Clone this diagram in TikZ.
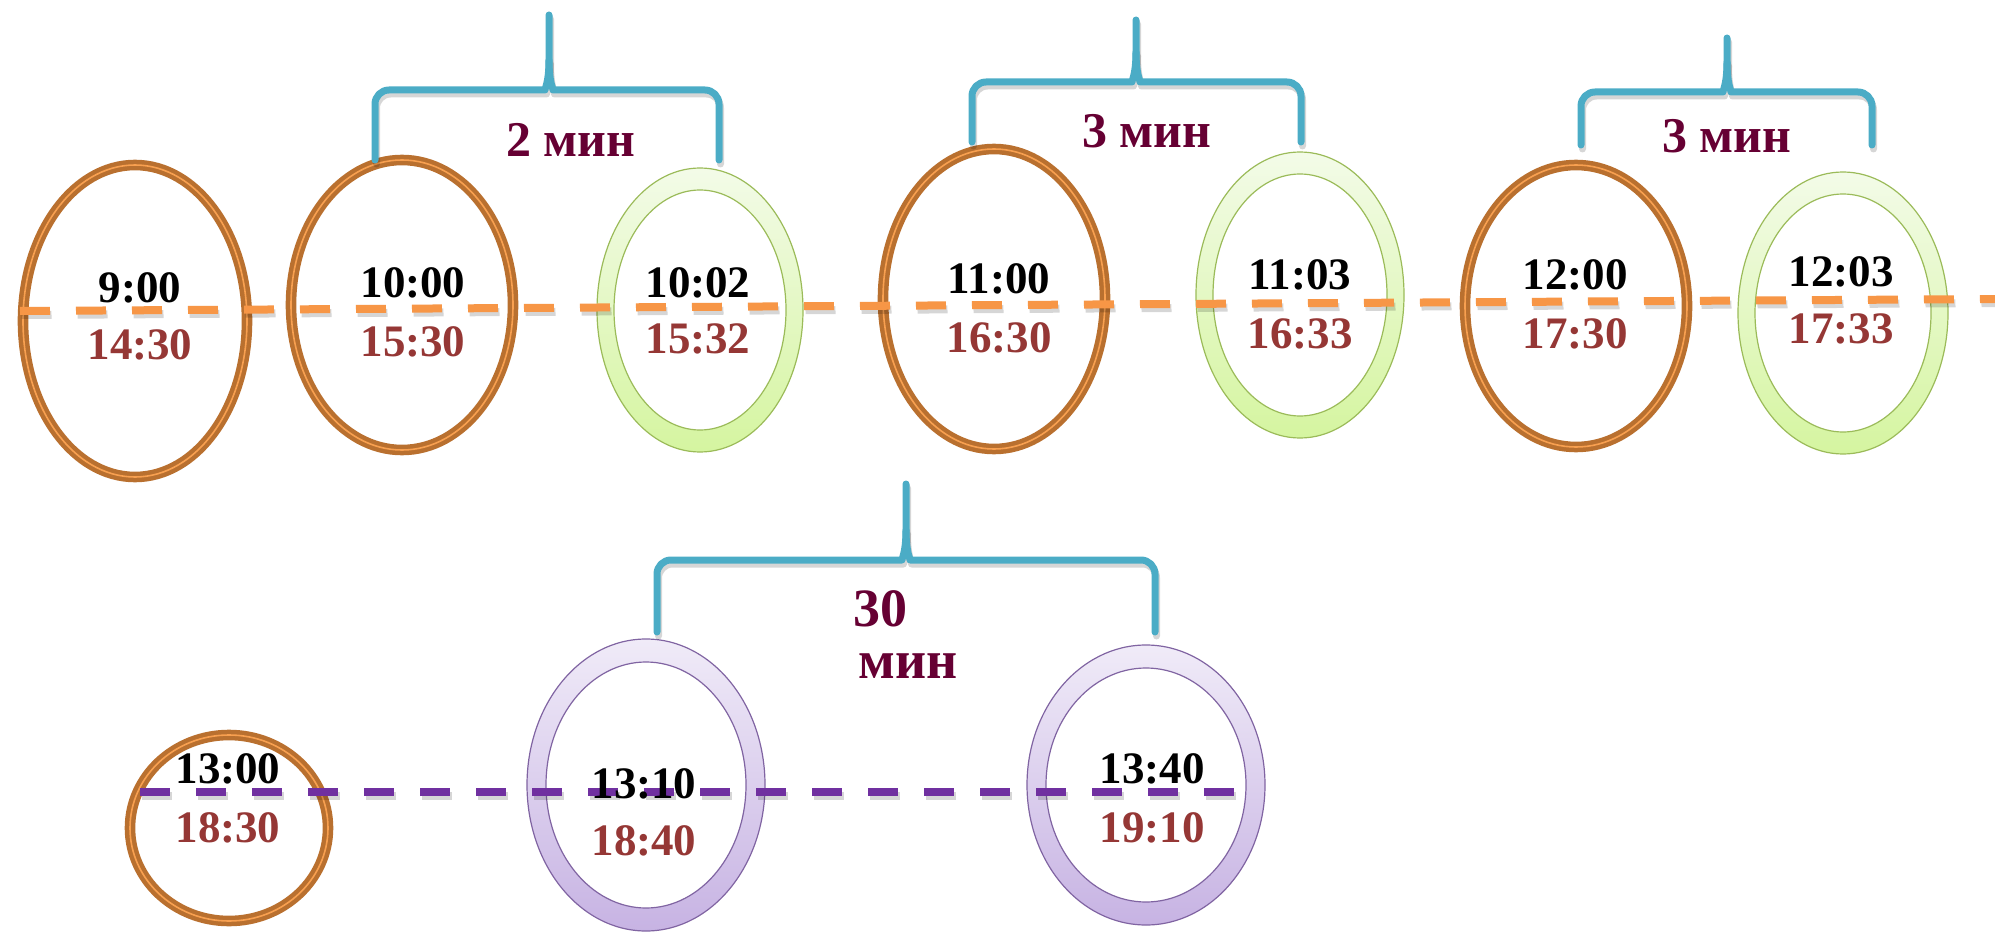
\documentclass[tikz,border=0pt]{standalone}
\usepackage{fontspec}
\setmainfont{Liberation Serif}
\definecolor{brownring}{HTML}{B9702F}
\definecolor{brownstripe}{HTML}{F8A050}
\definecolor{orline}{HTML}{F79646}
\definecolor{purline}{HTML}{7030A0}
\definecolor{gedge}{HTML}{9BBB59}
\definecolor{gtop}{HTML}{F3FBE8}
\definecolor{gbot}{HTML}{D5F5A0}
\definecolor{pedge}{HTML}{8064A2}
\definecolor{ptop}{HTML}{F0EBF8}
\definecolor{pbot}{HTML}{C7B3E3}
\definecolor{bracec}{HTML}{4BACC6}
\definecolor{lblc}{HTML}{660033}
\definecolor{redt}{HTML}{953735}
\tikzset{
  oring/.style={draw=brownring, line width=4.5pt, double=brownstripe, double distance=1.6pt, fill=white},
  gouter/.style={draw=gedge, line width=1.2pt, top color=gtop, bottom color=gbot},
  pouter/.style={draw=pedge, line width=1.2pt, top color=ptop, bottom color=pbot},
  ginner/.style={draw=gedge, line width=1.2pt, fill=white},
  pinner/.style={draw=pedge, line width=1.2pt, fill=white},
  shadowcopy/.style={draw=black, draw opacity=0.16, transform canvas={shift={(1.5pt,-4pt)}}},
  timeline/.style={line width=8pt, dash pattern=on 30pt off 26pt},
  bracestyle/.style={draw=bracec, line width=7pt, line cap=round, line join=round},
  ttop/.style={anchor=base, inner sep=0pt, font=\bfseries\fontsize{45}{50}\selectfont, text=black},
  tbot/.style={anchor=base, inner sep=0pt, font=\bfseries\fontsize{45}{50}\selectfont, text=redt},
  lbl/.style={anchor=base, inner sep=0pt, font=\bfseries\fontsize{50}{55}\selectfont, text=lblc},
  lblbig/.style={anchor=base, inner sep=0pt, font=\bfseries\fontsize{54}{60}\selectfont, text=lblc},
}
\newcommand\ORingAt[4]{\draw[oring] (#1,#2) ellipse [x radius=#3-5, y radius=#4-5];}
\newcommand\GRingAt[4]{\draw[gouter] (#1,#2) ellipse [x radius=#3, y radius=#4];
  \draw[ginner] (#1,#2) ellipse [x radius=#3-17, y radius=#4-22];}
\newcommand\PRingAt[4]{\draw[pouter] (#1,#2) ellipse [x radius=#3, y radius=#4];
  \draw[pinner] (#1,#2) ellipse [x radius=#3-19, y radius=#4-23];}
\newcommand\BraceHalf[7]{% style, xl, xt, xr, ybottom, yhoriz, ytop
  \draw[bracestyle,#1] (#2,#5) [rounded corners=14pt] -- (#2,#6) -- (#3-18,#6) [sharp corners]
     .. controls (#3-5,#6) and (#3,#6-6) .. (#3,#6-30) -- (#3,#7);
  \draw[bracestyle,#1] (#4,#5) [rounded corners=14pt] -- (#4,#6) -- (#3+18,#6) [sharp corners]
     .. controls (#3+5,#6) and (#3,#6-6) .. (#3,#6-30);}
\newcommand\BraceAt[6]{\BraceHalf{shadowcopy}{#1}{#2}{#3}{#4}{#5}{#6}\BraceHalf{}{#1}{#2}{#3}{#4}{#5}{#6}}
\begin{document}
\begin{tikzpicture}[x=1pt, y=-1pt]
\useasboundingbox (0,0) rectangle (1995,944);
\clip (0,0) rectangle (1995,944);
% rings, top row
\ORingAt{135}{321}{117}{161}
\ORingAt{402}{305}{116}{150}
\GRingAt{700}{310}{103}{142}
\ORingAt{994}{299}{116}{155}
\GRingAt{1300}{295}{104}{143}
\ORingAt{1576}{306}{116}{146}
\GRingAt{1843}{313}{105}{141}
% rings, bottom row
\ORingAt{229}{828}{104}{98}
\PRingAt{646}{785}{119}{146}
\PRingAt{1146}{785}{119}{140}
% time lines
\coordinate (ol1) at (20,311);
\coordinate (ol2) at (2000,299);
\draw[timeline, shadowcopy] (ol1) -- (ol2);
\draw[timeline, draw=orline] (ol1) -- (ol2);
\coordinate (pl1) at (140,792);
\coordinate (pl2) at (1236,792);
\draw[timeline, shadowcopy] (pl1) -- (pl2);
\draw[timeline, draw=purline] (pl1) -- (pl2);
% braces
\BraceAt{375}{549}{719}{160}{90}{15}
\BraceAt{972}{1136}{1301}{142}{82}{20}
\BraceAt{1581}{1727}{1872}{145}{92}{38}
\BraceAt{657}{906}{1155}{632}{560}{484}
% brace labels
\node[lbl] (l1) at (571,157) {2 мин};
\node[lbl] (l2) at (1147,148) {3 мин};
\node[lbl] (l3) at (1727,153) {3 мин};
\node[lblbig] (l4a) at (880,626) {30};
\node[lblbig] (l4b) at (908,678) {мин};
% times
\node[ttop] (a1) at (140,302) {9:00};   \node[tbot] (b1) at (140,359) {14:30};
\node[ttop] (a2) at (413,297) {10:00};  \node[tbot] (b2) at (413,356) {15:30};
\node[ttop] (a3) at (698,297) {10:02};  \node[tbot] (b3) at (698,353) {15:32};
\node[ttop] (a4) at (999,294) {11:00};  \node[tbot] (b4) at (999,352) {16:30};
\node[ttop] (a5) at (1300,289) {11:03}; \node[tbot] (b5) at (1300,348) {16:33};
\node[ttop] (a6) at (1575,289) {12:00}; \node[tbot] (b6) at (1575,348) {17:30};
\node[ttop] (a7) at (1841,287) {12:03}; \node[tbot] (b7) at (1841,343) {17:33};
\node[ttop] (a8) at (228,783) {13:00};  \node[tbot] (b8) at (228,842) {18:30};
\node[ttop] (a9) at (644,798) {13:10};  \node[tbot] (b9) at (644,855) {18:40};
\node[ttop] (a10) at (1152,783) {13:40}; \node[tbot] (b10) at (1152,842) {19:10};
\end{tikzpicture}
\end{document}
